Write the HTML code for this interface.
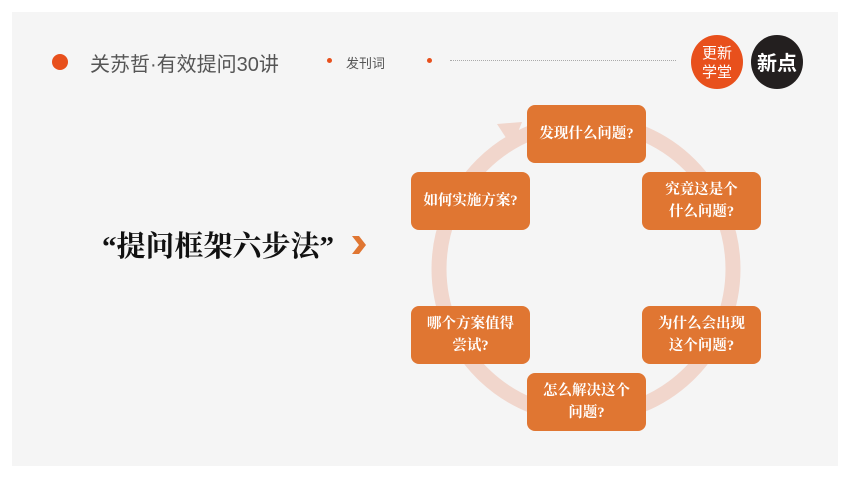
<!DOCTYPE html>
<html><head><meta charset="utf-8"><style>
body{margin:0;width:850px;height:478px;background:#fff;position:relative;overflow:hidden;font-family:"Liberation Serif","Noto Serif CJK SC",serif}
.slide{position:absolute;left:12px;top:12px;width:826px;height:454px;background:#f5f5f5}
.a{position:absolute}
.box{position:absolute;width:119px;height:58px;background:#e07632;border-radius:8px;color:#fff;font-weight:bold;font-size:14.5px;line-height:22px;display:flex;align-items:center;justify-content:center;text-align:center;font-family:"Liberation Serif","Noto Serif CJK SC",serif}
</style></head><body>
<div class="slide"></div>
<div class="a" style="left:52px;top:54px;width:16px;height:16px;border-radius:50%;background:#e8501c"></div>
<div class="a" style="left:90px;top:48px;font-size:20px;color:#555;font-family:'Liberation Sans','Noto Sans CJK SC',sans-serif;white-space:nowrap">关苏哲·有效提问30讲</div>
<div class="a" style="left:327px;top:58px;width:5px;height:5px;border-radius:50%;background:#e8501c"></div>
<div class="a" style="left:346px;top:53px;font-size:13px;color:#555;font-family:'Liberation Sans','Noto Sans CJK SC',sans-serif">发刊词</div>
<div class="a" style="left:427px;top:58px;width:5px;height:5px;border-radius:50%;background:#e8501c"></div>
<div class="a" style="left:450px;top:60px;width:226px;border-top:1px dotted #aaa"></div>
<div class="a" style="left:691px;top:35px;width:52px;height:54px;border-radius:50%;background:#e8501c;color:#fff;font-size:15px;line-height:19px;text-align:center;padding-top:8px;box-sizing:border-box;font-family:'Noto Sans CJK SC',sans-serif">更新<br>学堂</div>
<div class="a" style="left:751px;top:35px;width:52px;height:54px;border-radius:50%;background:#231f1f;color:#fff;font-size:20px;font-weight:bold;line-height:54px;text-align:center;font-family:'Noto Sans CJK SC',sans-serif">新点</div>
<svg class="a" style="left:0;top:0" width="850" height="478">
<circle cx="586" cy="269" r="147" fill="none" stroke="#f1d6cc" stroke-width="15"/>
<polygon points="497,124 522,122 512,147" fill="#f1d6cc"/>
<polygon points="352,236 359,236 366,245 359,254 352,254 359,245" fill="#e07632"/>
</svg>
<div class="a" style="left:102px;top:224px;font-size:29px;font-weight:bold;color:#111;white-space:nowrap">“提问框架六步法”</div>
<div class="box" style="left:527px;top:105px">发现什么问题?</div>
<div class="box" style="left:642px;top:172px">究竟这是个<br>什么问题?</div>
<div class="box" style="left:411px;top:172px">如何实施方案?</div>
<div class="box" style="left:411px;top:306px">哪个方案值得<br>尝试?</div>
<div class="box" style="left:642px;top:306px">为什么会出现<br>这个问题?</div>
<div class="box" style="left:527px;top:373px">怎么解决这个<br>问题?</div>
</body></html>
